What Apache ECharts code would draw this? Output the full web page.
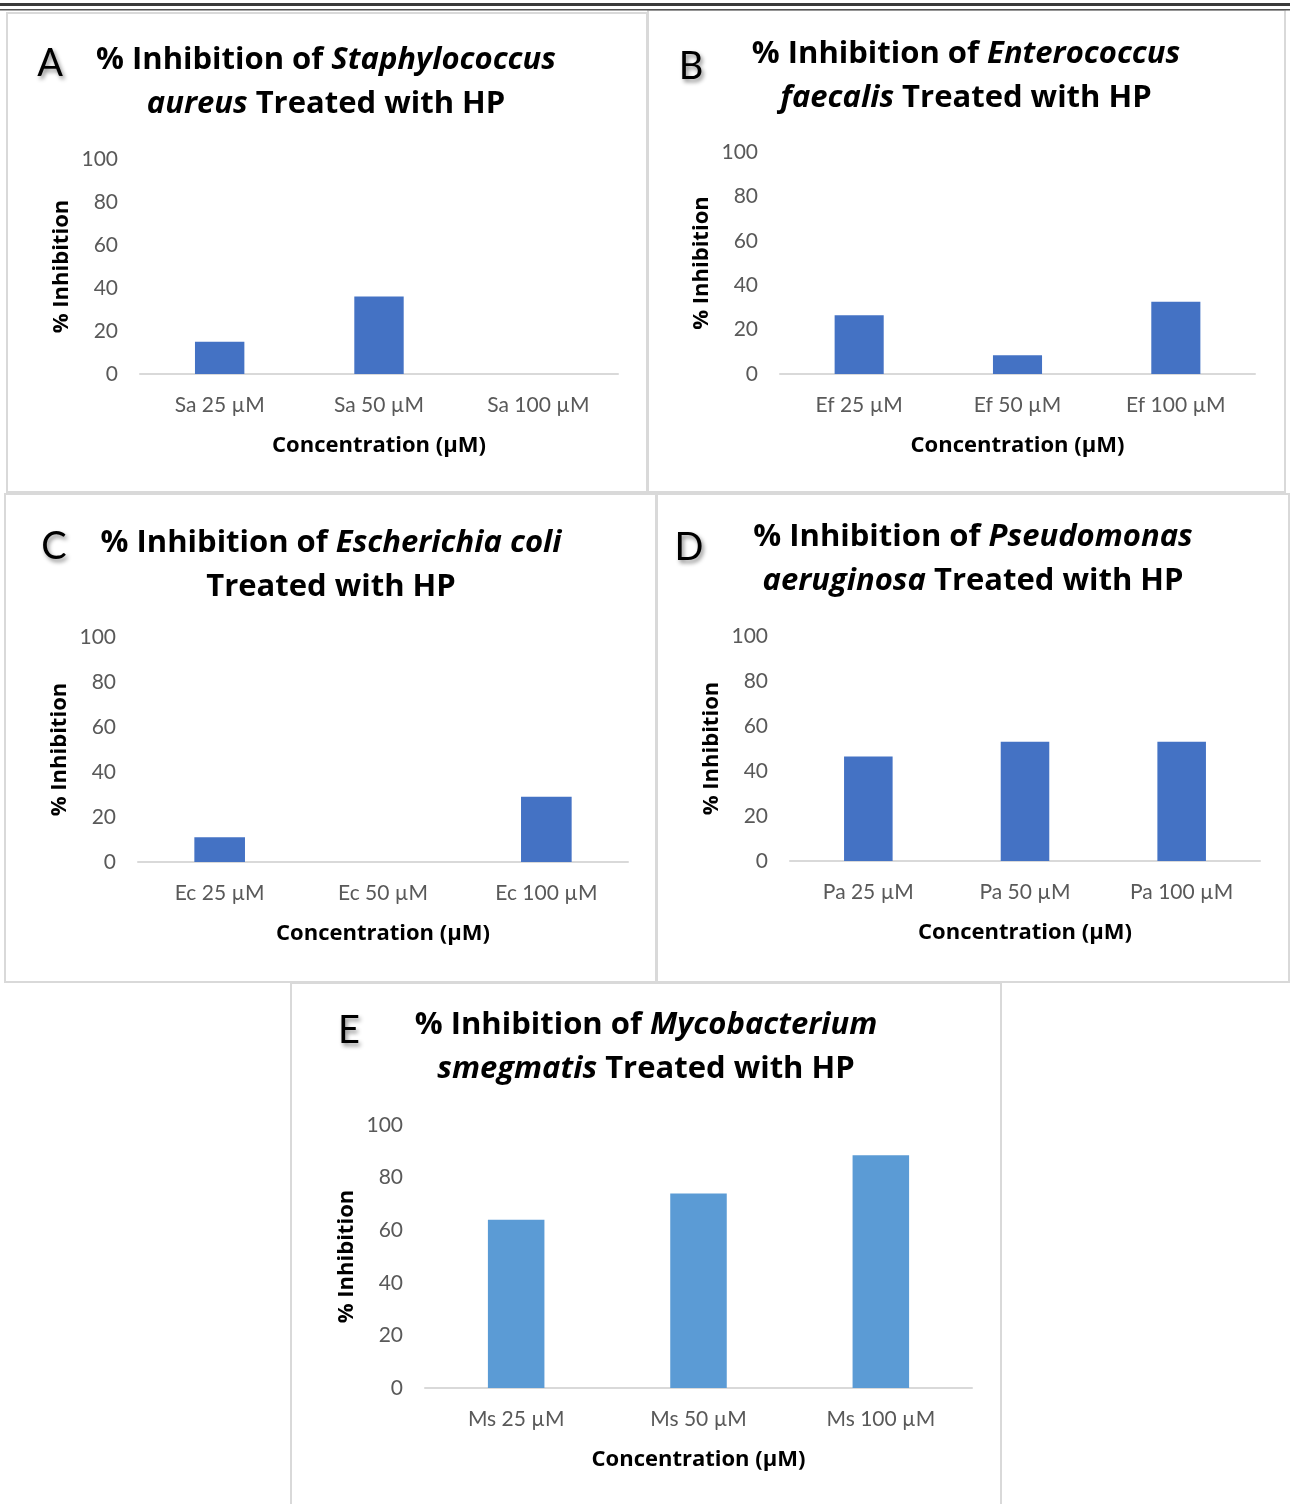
<!DOCTYPE html>
<html>
<head>
<meta charset="utf-8">
<script src="https://cdn.jsdelivr.net/npm/echarts@6/dist/echarts.min.js"></script>
<style>
  html, body { margin: 0; padding: 0; background: #fff; }
  #chart { width: 1290px; height: 1504px; }
</style>
</head>
<body>
<div id="chart"></div>
<script>
// Percent inhibition of five bacterial species treated with HP
const saCategories = ['Sa 25 µM', 'Sa 50 µM', 'Sa 100 µM'];
const saValues = [15, 36, 0];

const efCategories = ['Ef 25 µM', 'Ef 50 µM', 'Ef 100 µM'];
const efValues = [26.5, 8.5, 32.5];

const ecCategories = ['Ec 25 µM', 'Ec 50 µM', 'Ec 100 µM'];
const ecValues = [11, 0, 29];

const paCategories = ['Pa 25 µM', 'Pa 50 µM', 'Pa 100 µM'];
const paValues = [46.5, 53, 53];

const msCategories = ['Ms 25 µM', 'Ms 50 µM', 'Ms 100 µM'];
const msValues = [64, 74, 88.5];

const yTicks = [0, 20, 40, 60, 80, 100];

const LABEL_FONT = 'Lato';
const HEAD_FONT = 'Open Sans';
const DARK_BLUE = '#4472C4';
const LIGHT_BLUE = '#5B9BD5';

// Panel layout: plot area, title centre, panel letter, frame
const panels = [
  { letter: 'A', cats: saCategories, vals: saValues, color: DARK_BLUE,
    grid: { left: 140, top: 159, width: 478, height: 215 },
    title: { x: 326, y: 38, l1: ['% Inhibition of ', 'Staphylococcus'], l2: ['aureus', ' Treated with HP'] },
    letterPos: [50, 64], frame: [7, 13, 640, 479] },
  { letter: 'B', cats: efCategories, vals: efValues, color: DARK_BLUE,
    grid: { left: 780, top: 152, width: 475, height: 222 },
    title: { x: 966, y: 32, l1: ['% Inhibition of ', 'Enterococcus'], l2: ['faecalis', ' Treated with HP'] },
    letterPos: [691, 67], frame: [648, 10, 637, 482] },
  { letter: 'C', cats: ecCategories, vals: ecValues, color: DARK_BLUE,
    grid: { left: 138, top: 637, width: 490, height: 225 },
    title: { x: 331, y: 521, l1: ['% Inhibition of ', 'Escherichia coli'], l2: ['', 'Treated with HP'] },
    letterPos: [54, 547], frame: [5, 494, 651, 488] },
  { letter: 'D', cats: paCategories, vals: paValues, color: DARK_BLUE,
    grid: { left: 790, top: 636, width: 470, height: 225 },
    title: { x: 973, y: 515, l1: ['% Inhibition of ', 'Pseudomonas'], l2: ['aeruginosa', ' Treated with HP'] },
    letterPos: [689, 548], frame: [657, 494, 632, 488] },
  { letter: 'E', cats: msCategories, vals: msValues, color: LIGHT_BLUE,
    grid: { left: 425, top: 1125, width: 547, height: 263 },
    title: { x: 646, y: 1003, l1: ['% Inhibition of ', 'Mycobacterium'], l2: ['smegmatis', ' Treated with HP'] },
    letterPos: [349, 1031], frame: [291, 983, 710, 530] }
];

const richStyles = {
  n: { fontFamily: HEAD_FONT, fontWeight: 'bold', fontSize: 31, color: '#000', lineHeight: 44 },
  i: { fontFamily: HEAD_FONT, fontWeight: 'bold', fontStyle: 'italic', fontSize: 31, color: '#000', lineHeight: 44 }
};

const grids = [], xAxes = [], yAxes = [], series = [], titles = [], graphics = [];

// Double rule across the top of the figure
graphics.push({ type: 'rect', shape: { x: 0, y: 3, width: 1290, height: 3 }, style: { fill: '#3a3a3a' }, silent: true });
graphics.push({ type: 'rect', shape: { x: 0, y: 9, width: 1290, height: 1.5 }, style: { fill: '#555' }, silent: true });

panels.forEach((p, k) => {
  grids.push(Object.assign({ containLabel: false }, p.grid));
  xAxes.push({
    type: 'category', gridIndex: k, data: p.cats,
    axisLine: { lineStyle: { color: '#d9d9d9', width: 2 } },
    axisTick: { show: false },
    axisLabel: { color: '#595959', fontFamily: LABEL_FONT, fontSize: 21, margin: 21 },
    name: 'Concentration (µM)', nameLocation: 'middle', nameGap: 61,
    nameTextStyle: { color: '#000', fontFamily: HEAD_FONT, fontWeight: 'bold', fontSize: 22 }
  });
  yAxes.push({
    type: 'value', gridIndex: k, min: yTicks[0], max: yTicks[yTicks.length - 1], interval: 20,
    axisLine: { show: false }, axisTick: { show: false }, splitLine: { show: false },
    axisLabel: { color: '#595959', fontFamily: LABEL_FONT, fontSize: 21, margin: 22 },
    name: '% Inhibition', nameLocation: 'middle', nameGap: 67, nameRotate: 90,
    nameTextStyle: { color: '#000', fontFamily: HEAD_FONT, fontWeight: 'bold', fontSize: 22 }
  });
  series.push({
    type: 'bar', xAxisIndex: k, yAxisIndex: k, data: p.vals,
    barWidth: '31%', itemStyle: { color: p.color }, silent: true
  });

  const line1 = '{n|' + p.title.l1[0] + '}' + '{i|' + p.title.l1[1] + '}';
  const line2 = (p.title.l2[0] ? '{i|' + p.title.l2[0] + '}' : '') + '{n|' + p.title.l2[1] + '}';
  titles.push({
    text: line1 + '\n' + line2,
    left: p.title.x, top: p.title.y, textAlign: 'center', padding: 0,
    textStyle: { rich: richStyles, lineHeight: 44 }
  });

  graphics.push({
    type: 'rect', z: -1, silent: true,
    shape: { x: p.frame[0], y: p.frame[1], width: p.frame[2], height: p.frame[3] },
    style: { fill: 'none', stroke: '#d9d9d9', lineWidth: 2 }
  });
  graphics.push({
    type: 'text', silent: true, x: p.letterPos[0], y: p.letterPos[1],
    style: {
      text: p.letter, fill: '#000', font: '38px ' + LABEL_FONT,
      textAlign: 'center', textVerticalAlign: 'middle',
      textShadowColor: 'rgba(0,0,0,0.45)', textShadowBlur: 4,
      textShadowOffsetX: 2, textShadowOffsetY: 3
    }
  });
});

const chart = echarts.init(document.getElementById('chart'), null, { renderer: 'canvas' });
chart.setOption({
  animation: false,
  backgroundColor: '#fff',
  title: titles,
  grid: grids,
  xAxis: xAxes,
  yAxis: yAxes,
  series: series,
  graphic: graphics
});
</script>
</body>
</html>
